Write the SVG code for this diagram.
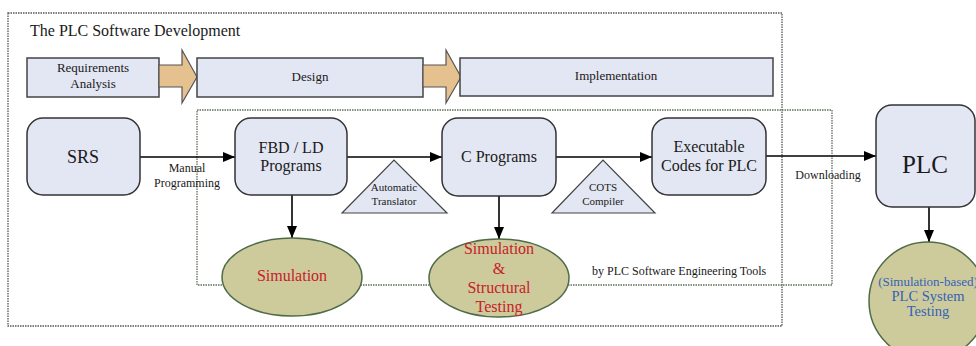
<svg xmlns="http://www.w3.org/2000/svg" width="976" height="346" viewBox="0 0 976 346">
<defs>
<style>
.t{font-family:"Liberation Serif","Times New Roman",serif;fill:#1a1a1a;text-anchor:middle}
.box{fill:#e3e6f3;stroke:#333;stroke-width:1.5}
.phase{fill:#e3e6f3;stroke:#444;stroke-width:1.5}
.parrow{fill:#e6c190;stroke:#555;stroke-width:1.2}
.tri{fill:#e3e6f3;stroke:#444;stroke-width:1.2}
.ell{fill:#cdcb9c;stroke:#4f6b48;stroke-width:1.5}
.conn{stroke:#000;stroke-width:1.6;fill:none;marker-end:url(#ah)}
.red{fill:#c8202a}
.blue{fill:#3462b8}
</style>
<marker id="ah" viewBox="0 0 12 10" refX="12" refY="5" markerWidth="12" markerHeight="10" markerUnits="userSpaceOnUse" orient="auto">
<path d="M0,0 L12,5 L0,10 Z" fill="#000"/>
</marker>
</defs>
<rect width="976" height="346" fill="#fff"/>

<g id="frames">
<rect x="8" y="13" width="774" height="313" fill="none" stroke="#555" stroke-width="1.3" stroke-dasharray="1.5,1"/>
<rect x="197" y="110" width="635" height="175" fill="none" stroke="#5d6f5a" stroke-width="1.3" stroke-dasharray="1.5,1"/>
<text class="t" x="30" y="36" font-size="16" style="text-anchor:start">The PLC Software Development</text>
<text class="t" x="592" y="275" font-size="12" style="text-anchor:start">by PLC Software Engineering Tools</text>
</g>

<g id="phases">
<g id="phase-req">
<rect class="phase" x="27" y="58" width="132" height="39"/>
<text class="t" x="93" y="72" font-size="13">Requirements</text>
<text class="t" x="93" y="88" font-size="13">Analysis</text>
</g>
<g id="phase-arrow1">
<path class="parrow" d="M159,65 L182,65 L182,50 L197,77 L182,103 L182,87 L159,87 Z"/>
</g>
<g id="phase-design">
<rect class="phase" x="197" y="58" width="226" height="39"/>
<text class="t" x="310" y="81" font-size="13">Design</text>
</g>
<g id="phase-arrow2">
<path class="parrow" d="M423,65 L446,65 L446,50 L461,77 L446,103 L446,87 L423,87 Z"/>
</g>
<g id="phase-impl">
<rect class="phase" x="460" y="58" width="313" height="38"/>
<text class="t" x="616" y="80" font-size="13">Implementation</text>
</g>
</g>

<g id="connectors">
<line class="conn" x1="140" y1="157" x2="235" y2="157"/>
<line class="conn" x1="347" y1="157" x2="442" y2="157"/>
<line class="conn" x1="556" y1="157" x2="652" y2="157"/>
<line class="conn" x1="766" y1="156" x2="876" y2="156"/>
<line class="conn" x1="292" y1="195" x2="292" y2="238"/>
<line class="conn" x1="499" y1="196" x2="499" y2="239"/>
<line class="conn" x1="929" y1="207" x2="929" y2="242"/>
<text class="t" x="187" y="172" font-size="12">Manual</text>
<text class="t" x="187" y="187" font-size="12">Programming</text>
<text class="t" x="828" y="179" font-size="12">Downloading</text>
</g>

<g id="srs">
<rect class="box" x="27" y="118" width="113" height="77" rx="16"/>
<text class="t" x="83" y="163" font-size="18">SRS</text>
</g>

<g id="fbd">
<rect class="box" x="235" y="118" width="112" height="77" rx="16"/>
<text class="t" x="291" y="153" font-size="16">FBD / LD</text>
<text class="t" x="291" y="171" font-size="16">Programs</text>
</g>

<g id="translator">
<path class="tri" d="M342,213 L394,160 L447,213 Z"/>
<text class="t" x="394" y="191" font-size="11">Automatic</text>
<text class="t" x="394" y="205" font-size="11">Translator</text>
</g>

<g id="cprog">
<rect class="box" x="442" y="118" width="114" height="78" rx="16"/>
<text class="t" x="499" y="162" font-size="16">C Programs</text>
</g>

<g id="cots">
<path class="tri" d="M552,213 L603,160 L655,213 Z"/>
<text class="t" x="603" y="191" font-size="11">COTS</text>
<text class="t" x="603" y="205" font-size="11">Compiler</text>
</g>

<g id="exec">
<rect class="box" x="652" y="118" width="114" height="77" rx="16"/>
<text class="t" x="709" y="152" font-size="16">Executable</text>
<text class="t" x="709" y="171" font-size="16">Codes for PLC</text>
</g>

<g id="plc">
<rect class="box" x="876" y="105" width="99" height="102" rx="16"/>
<text class="t" x="925" y="173" font-size="25">PLC</text>
</g>

<g id="sim1">
<ellipse class="ell" cx="292" cy="277" rx="70" ry="39"/>
<text class="t red" x="292" y="281" font-size="16">Simulation</text>
</g>

<g id="sim2">
<ellipse class="ell" cx="499" cy="278" rx="70" ry="39"/>
<text class="t red" x="499" y="254" font-size="16">Simulation</text>
<text class="t red" x="499" y="274" font-size="16">&amp;</text>
<text class="t red" x="499" y="293" font-size="16">Structural</text>
<text class="t red" x="499" y="312" font-size="16">Testing</text>
</g>

<g id="systest">
<circle class="ell" cx="928" cy="301" r="59"/>
<text class="t blue" x="928" y="286" font-size="13">(Simulation-based)</text>
<text class="t blue" x="928" y="301" font-size="14.5">PLC System</text>
<text class="t blue" x="928" y="316" font-size="14.5">Testing</text>
</g>
</svg>
